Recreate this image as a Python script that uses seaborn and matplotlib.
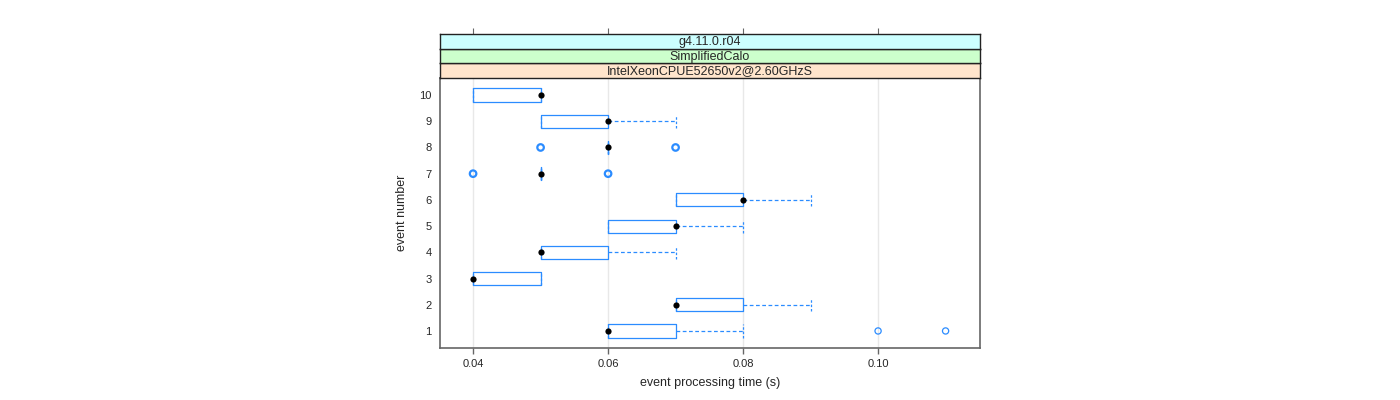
import numpy as np
import pandas as pd
import seaborn as sns
import matplotlib.pyplot as plt

# box statistics (seconds)
events = [1, 2, 3, 4, 5, 6, 7, 8, 9, 10]
q1 = [0.06, 0.07, 0.04, 0.05, 0.06, 0.07, 0.05, 0.06, 0.05, 0.04]
medians = [0.06, 0.07, 0.04, 0.05, 0.07, 0.08, 0.05, 0.06, 0.06, 0.05]
q3 = [0.07, 0.08, 0.05, 0.06, 0.07, 0.08, 0.05, 0.06, 0.06, 0.05]
whis_lo = [0.06, 0.07, 0.04, 0.05, 0.06, 0.07, 0.05, 0.06, 0.05, 0.04]
whis_hi = [0.08, 0.09, 0.05, 0.07, 0.08, 0.09, 0.05, 0.06, 0.07, 0.05]
outlier_event = [1, 1, 7, 7, 8, 8]
outlier_time = [0.10, 0.11, 0.04, 0.06, 0.05, 0.07]

strip_labels = ['IntelXeonCPUE52650v2@2.60GHzS', 'SimplifiedCalo', 'g4.11.0.r04']
strip_colors = ['#ffe5cc', '#ccffcc', '#ccffff']
x_ticks = [0.04, 0.06, 0.08, 0.10]

sns.set_style('white')
plt.rcParams['font.family'] = ['Liberation Sans', 'DejaVu Sans']

blue = '#2b8cff'
frame = '#666666'

fig = plt.figure(figsize=(14, 4), dpi=100)
W, H = 1400, 400
ax = fig.add_axes([440 / W, 1 - 348 / H, 540 / W, 270 / H])

stats = []
for i in range(len(events)):
    stats.append(dict(med=medians[i], q1=q1[i], q3=q3[i],
                      whislo=whis_lo[i], whishi=whis_hi[i], fliers=[]))

for x in x_ticks:
    ax.axvline(x, color='#e8e8e8', lw=1, zorder=0)

ax.bxp(stats, positions=events, orientation='horizontal', widths=0.5,
       showfliers=False, showcaps=True, capwidths=0.5,
       boxprops=dict(color=blue, lw=0.9),
       whiskerprops=dict(color=blue, lw=0.9, ls=(0, (3, 2))),
       capprops=dict(color=blue, lw=0.9, ls=(0, (2, 1.5))),
       medianprops=dict(lw=0), manage_ticks=False)

med_df = pd.DataFrame({'time': medians, 'event': events})
sns.scatterplot(data=med_df, x='time', y='event', ax=ax, color='black',
                s=20, edgecolor='black', linewidth=0, zorder=5)

# event 1 outliers are drawn once, the others look overplotted
out_df = pd.DataFrame({'time': outlier_time, 'event': outlier_event})
heavy = out_df[out_df['event'] != 1]
light = out_df[out_df['event'] == 1]
sns.scatterplot(data=heavy, x='time', y='event', ax=ax, marker='o',
                s=22, facecolor='none', edgecolor=blue, linewidth=1.6, zorder=4)
sns.scatterplot(data=light, x='time', y='event', ax=ax, marker='o',
                s=20, facecolor='none', edgecolor=blue, linewidth=0.9, zorder=4)

ax.set_xlim(0.0351, 0.1151)
ax.set_ylim(0.35, 10.65)
ax.set_xticks(x_ticks)
ax.set_xticklabels(['%.2f' % t for t in x_ticks])
ax.set_yticks(events)
ax.set_yticklabels([str(e) for e in events])
ax.tick_params(axis='x', direction='out', length=4, width=1, color=frame,
               labelsize=8, pad=4, bottom=True)
ax.tick_params(axis='y', length=0, labelsize=8, pad=6)
for s in ax.spines.values():
    s.set_color(frame)
    s.set_linewidth(1.2)
ax.set_xlabel('event processing time (s)', fontsize=9, labelpad=6)
ax.set_ylabel('event number', fontsize=9, labelpad=8)

# lattice-style strips above the panel
strip_h = 14.6
for k, (lab, col) in enumerate(zip(strip_labels, strip_colors)):
    sax = fig.add_axes([440 / W, 1 - (78 - k * strip_h) / H, 540 / W, strip_h / H])
    sax.set_facecolor(col)
    sax.set_xlim(ax.get_xlim())
    sax.set_yticks([])
    sax.text(0.5, 0.45, lab, ha='center', va='center', fontsize=9,
             transform=sax.transAxes)
    for s in sax.spines.values():
        s.set_color('#222222')
        s.set_linewidth(1)
    if k == 2:
        sax.set_xticks(x_ticks)
        sax.tick_params(axis='x', top=True, bottom=False, labeltop=False,
                        labelbottom=False, direction='out', length=4,
                        color=frame)
    else:
        sax.set_xticks([])

fig.savefig('out.png', dpi=100)
